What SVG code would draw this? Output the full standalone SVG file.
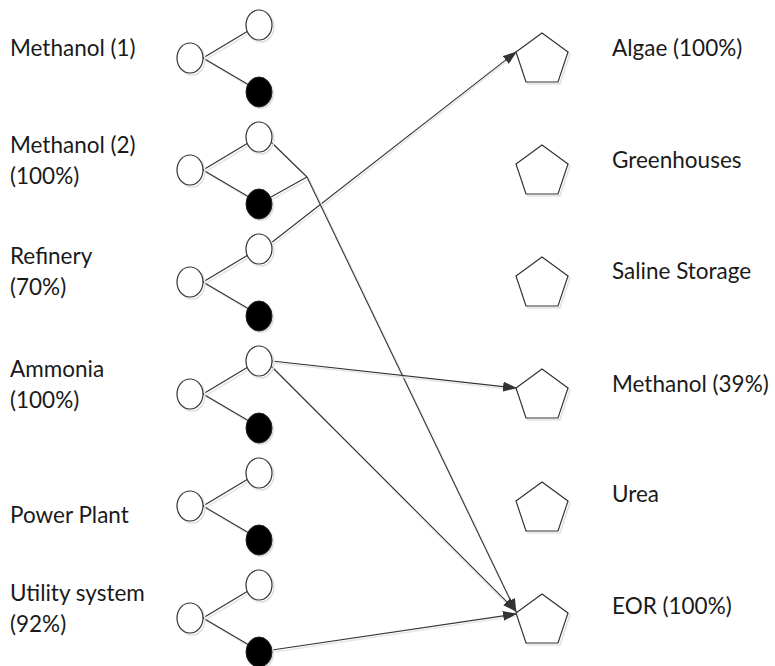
<svg xmlns="http://www.w3.org/2000/svg" width="775" height="666" viewBox="0 0 775 666">
<style>
.t{font-family:Lato,"Liberation Sans",sans-serif;font-size:22.5px;fill:#1a1a1a}
.c{fill:#fff;stroke:#333;stroke-width:1.2}
.b{fill:#000;stroke:#222;stroke-width:1}
.sh{fill:none;stroke:#e2e2e2;stroke-width:1.6}
.shf{fill:#ddd;stroke:none}
.l{stroke:#333;stroke-width:1.1;fill:none}
.ls{stroke:#e6e6e6;stroke-width:1.5;fill:none}
.p{fill:#fff;stroke:#333;stroke-width:1.2}
</style>
<defs>
<marker id="ah" markerWidth="14" markerHeight="10" refX="13" refY="5" orient="auto" markerUnits="userSpaceOnUse">
<path d="M0,0 L14,5 L0,10 Z" fill="#333"/>
</marker>
<g id="tree">
<path class="ls" d="M205,2 L250,-25 M205,2 L251,29"/>
<path class="l" d="M203,0 L248,-27 M203,0 L249,27"/>
<ellipse class="sh" cx="192" cy="2" rx="13" ry="15"/>
<ellipse class="c" cx="190" cy="0" rx="13" ry="15"/>
<ellipse class="sh" cx="261" cy="-31" rx="13" ry="15"/>
<ellipse class="c" cx="259" cy="-33" rx="13" ry="15"/>
<ellipse class="shf" cx="261" cy="36" rx="13" ry="15"/>
<ellipse class="b" cx="259" cy="34" rx="13" ry="15"/>
</g>
<g id="pent">
<path class="sh" d="M544,2 L570,21 L560,51 L528,51 L518,21 Z"/>
<path class="p" d="M542,0 L568,19 L558,49 L526,49 L516,19 Z"/>
</g>
</defs>

<g id="connectors">
<path class="ls" d="M273,245 L516,54"/>
<path class="l" d="M271,243 L516,52" marker-end="url(#ah)"/>
<path class="ls" d="M273,144 L309,179 M273,199 L309,179 L517,613"/>
<path class="l" d="M271,142 L307,177 M271,197 L307,177"/>
<path class="l" d="M307,177 L516,612" marker-end="url(#ah)"/>
<path class="ls" d="M274,363 L516,390 M273,368 L516,613"/>
<path class="l" d="M272,361 L516,388" marker-end="url(#ah)"/>
<path class="l" d="M271,366 L516,611" marker-end="url(#ah)"/>
<path class="ls" d="M274,652 L516,616"/>
<path class="l" d="M272,650 L516,614" marker-end="url(#ah)"/>
</g>

<g id="src-methanol1"><use href="#tree" y="58"/><text class="t" x="10" y="56">Methanol (1)</text></g>
<g id="src-methanol2"><use href="#tree" y="170"/><text class="t" x="10" y="153">Methanol (2)</text><text class="t" x="10" y="184">(100%)</text></g>
<g id="src-refinery"><use href="#tree" y="282"/><text class="t" x="10" y="264">Refinery</text><text class="t" x="10" y="295">(70%)</text></g>
<g id="src-ammonia"><use href="#tree" y="394"/><text class="t" x="10" y="377">Ammonia</text><text class="t" x="10" y="408">(100%)</text></g>
<g id="src-power"><use href="#tree" y="506"/><text class="t" x="10" y="523">Power Plant</text></g>
<g id="src-utility"><use href="#tree" y="618"/><text class="t" x="10" y="601">Utility system</text><text class="t" x="10" y="632">(92%)</text></g>

<g id="snk-algae"><use href="#pent" y="33"/><text class="t" x="612" y="56">Algae (100%)</text></g>
<g id="snk-greenhouses"><use href="#pent" y="145"/><text class="t" x="612" y="168">Greenhouses</text></g>
<g id="snk-saline"><use href="#pent" y="257"/><text class="t" x="612" y="279">Saline Storage</text></g>
<g id="snk-methanol"><use href="#pent" y="369"/><text class="t" x="612" y="392">Methanol (39%)</text></g>
<g id="snk-urea"><use href="#pent" y="482"/><text class="t" x="612" y="502">Urea</text></g>
<g id="snk-eor"><use href="#pent" y="594"/><text class="t" x="612" y="614">EOR (100%)</text></g>
</svg>
